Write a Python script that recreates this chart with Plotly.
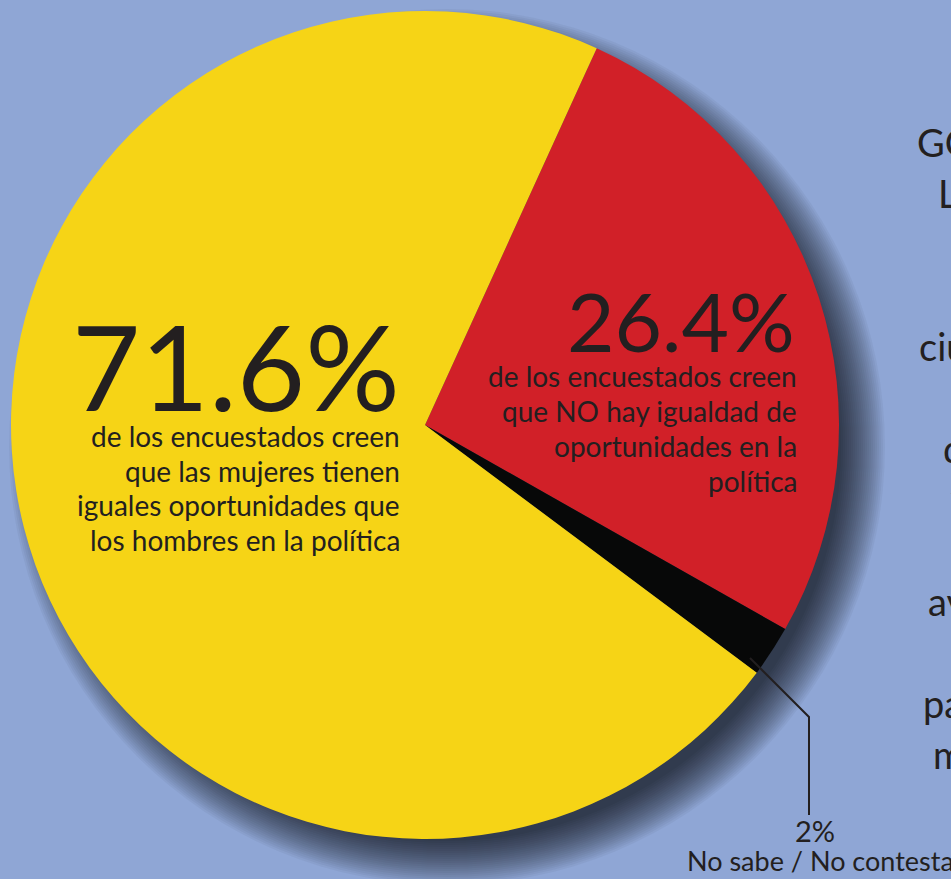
import plotly.graph_objects as go

W, H = 951, 879

# ---- data ----
labels = ["NO hay igualdad", "No sabe / No contesta", "Iguales oportunidades"]
values = [26.4, 2, 71.6]
colors = ["#d12028", "#070808", "#f6d416"]

yes_lines = ["de los encuestados creen", "que las mujeres tienen",
             "iguales oportunidades que", "los hombres en la política"]
no_lines = ["de los encuestados creen", "que NO hay igualdad de",
            "oportunidades en la", "política"]
ns_label = "No sabe / No contesta"

# partially visible column of text at the right edge
side_words = ["GOBIERNO", "LA", "ciudadanos", "de", "1", "avances", "para", "mujeres"]
side_rows = [0, 1, 4, 6, 7, 9, 11, 12]
side_x = [917, 938, 919, 943, 948, 928, 923, 933]

# ---- helpers ----
def px(x):
    return x / W

def py(y):
    return 1 - y / H

TXT = "#231f20"
FONT = "Lato"
BG = "#8fa6d5"

cx, cy, R = 425, 425, 414

fig = go.Figure()
fig.add_trace(go.Pie(
    labels=labels, values=values, sort=False, direction="clockwise",
    rotation=24.5, marker=dict(colors=colors, line=dict(width=0)),
    textinfo="none", hoverinfo="label+percent", showlegend=False,
    domain=dict(x=[px(cx - R), px(cx + R)], y=[py(cy + R), py(cy - R)]),
))

shapes = []
# soft drop shadow (stack of faint circles offset down-right)
sox, soy = 22, 22
radii = list(range(394, 440, 2))
alpha = 1 - 0.4 ** (1 / len(radii))
for r in radii:
    shapes.append(dict(
        type="circle", xref="paper", yref="paper", layer="below",
        x0=px(cx + sox - r), x1=px(cx + sox + r),
        y0=py(cy + soy + r), y1=py(cy + soy - r),
        fillcolor=f"rgba(0,0,0,{alpha:.4f})", line=dict(width=0),
    ))
# leader line for the small slice
pts = [(750, 658), (809, 717), (809, 815)]
path = "M " + " L ".join(f"{px(x):.5f},{py(y):.5f}" for x, y in pts)
shapes.append(dict(type="path", xref="paper", yref="paper", path=path,
                   line=dict(color=TXT, width=2), layer="above"))

ann = []

def add_text(text, x, baseline, size, xanchor="right"):
    ann.append(dict(
        text=text, x=px(x), y=py(baseline - 0.39 * size),
        xref="paper", yref="paper", xanchor=xanchor, yanchor="middle",
        showarrow=False, font=dict(family=FONT, size=size, color=TXT),
    ))

# yellow slice label
add_text(f"{values[2]}%", 402, 412, 118)
for i, t in enumerate(yes_lines):
    add_text(t, 402, 447 + 34.5 * i, 28)

# red slice label
add_text(f"{values[0]}%", 797, 352, 82)
for i, t in enumerate(no_lines):
    add_text(t, 799, 387 + 35 * i, 28)

# small slice label
add_text(f"{values[1]:g}%", 815, 842, 29, xanchor="center")
add_text(ns_label, 685, 871, 27, xanchor="left")

# cut-off side text
for w, r, x in zip(side_words, side_rows, side_x):
    add_text(w, x - 2, 157 + 51 * r, 38, xanchor="left")

fig.update_layout(
    width=W, height=H, margin=dict(l=0, r=0, t=0, b=0),
    paper_bgcolor=BG, plot_bgcolor=BG,
    shapes=shapes, annotations=ann,
)

fig.write_html("out.html", config={"displayModeBar": False},
               post_script="document.body.style.margin='0';document.body.style.overflow='hidden';")
